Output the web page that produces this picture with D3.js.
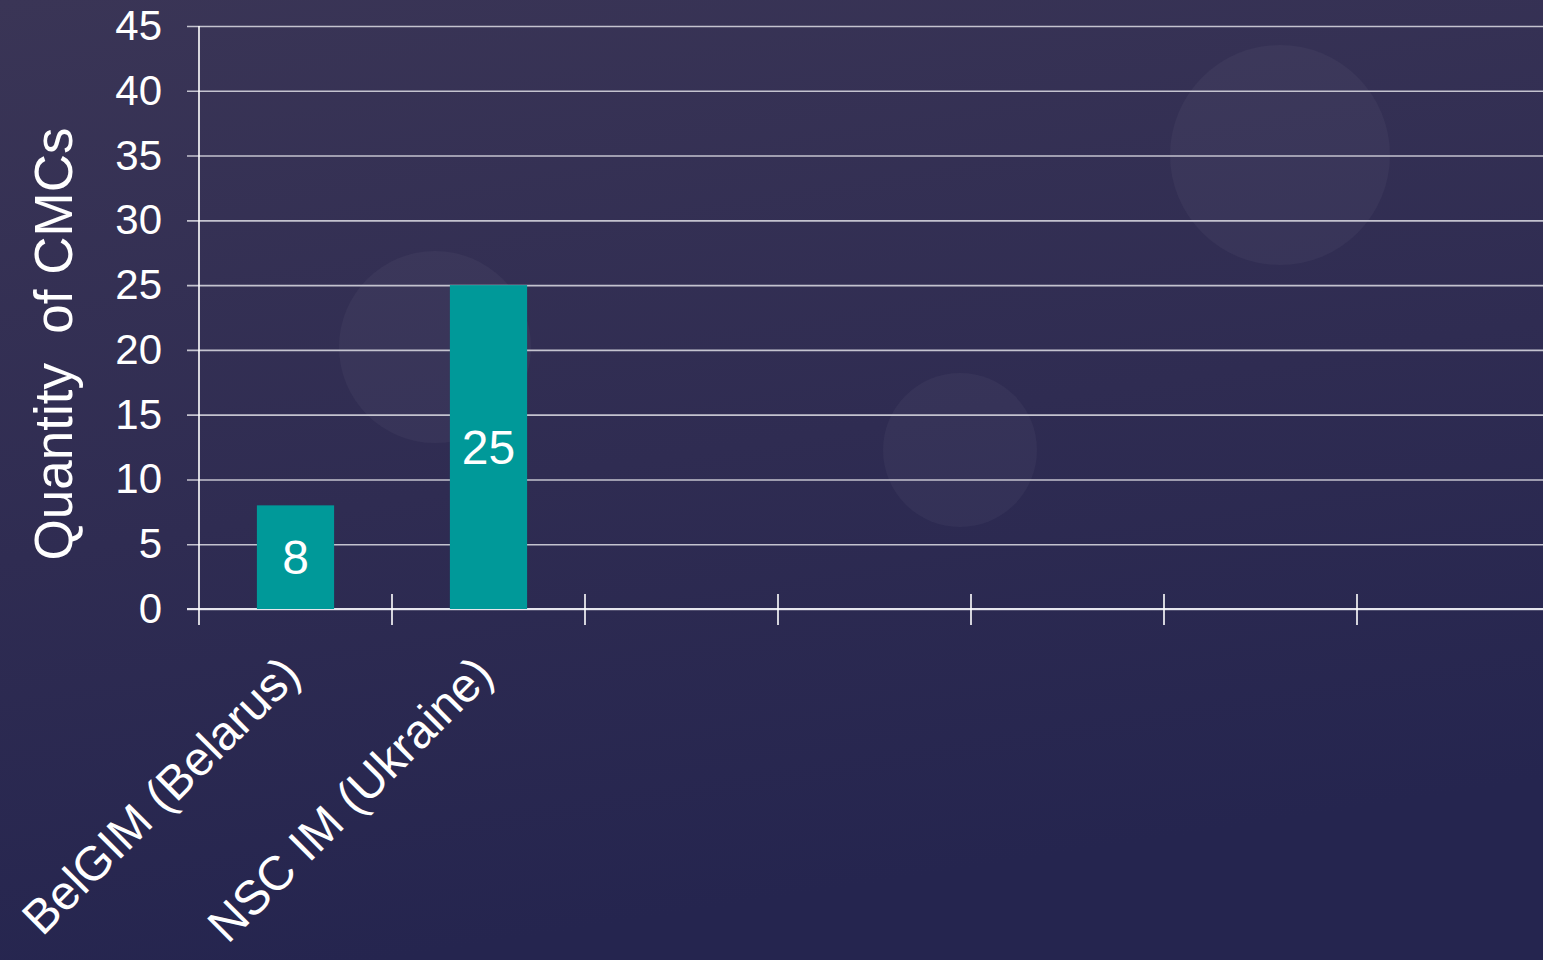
<!DOCTYPE html>
<html>
<head>
<meta charset="utf-8">
<script src="https://cdnjs.cloudflare.com/ajax/libs/d3/7.8.5/d3.min.js"></script>
<style>
  html, body { margin: 0; padding: 0; overflow: hidden; background: #2e2b4f; }
  text { font-family: 'Liberation Sans', Arial, sans-serif; fill: #ffffff; }
</style>
</head>
<body>
<div class="chart-container"></div>
<script>
// Data
const categories = ['BelGIM (Belarus)', 'NSC IM (Ukraine)', '', '', '', '', ''];
const values = [8, 25, null, null, null, null, null];
const yTicks = [0, 5, 10, 15, 20, 25, 30, 35, 40, 45];
const yTitle = 'Quantity\u00a0\u00a0of CMCs';

// Layout
const W = 1543, H = 960;
const margin = { top: 26, left: 199, bottom: 351 };
const plotBottom = H - margin.bottom; // 609
const step = 193;

const svg = d3.select('.chart-container')
    .append('svg')
    .attr('width', W)
    .attr('height', H);

// Background
const defs = svg.append('defs');
const grad = defs.append('linearGradient')
    .attr('id', 'bg')
    .attr('x1', '0').attr('y1', '0')
    .attr('x2', '0.25').attr('y2', '1');
grad.append('stop').attr('offset', '0%').attr('stop-color', '#3a3556');
grad.append('stop').attr('offset', '55%').attr('stop-color', '#2f2c52');
grad.append('stop').attr('offset', '100%').attr('stop-color', '#25254f');

svg.append('rect')
    .attr('width', W).attr('height', H)
    .attr('fill', 'url(#bg)');

// faint decorative circles
const bubbles = [[435, 347, 96], [960, 450, 77], [1280, 155, 110]];
svg.selectAll('.bubble')
    .data(bubbles)
    .enter()
    .append('circle')
    .attr('class', 'bubble')
    .attr('cx', d => d[0])
    .attr('cy', d => d[1])
    .attr('r', d => d[2])
    .attr('fill', '#ffffff')
    .attr('fill-opacity', 0.035);

// Scales
const xScale = d3.scaleBand()
    .domain(d3.range(categories.length))
    .range([margin.left, margin.left + step * categories.length])
    .padding(0);

const yScale = d3.scaleLinear()
    .domain([0, 45])
    .range([plotBottom, margin.top]);

// Gridlines + y labels
const yAxis = d3.axisLeft(yScale)
    .tickValues(yTicks)
    .tickSizeInner(-(W - 187))
    .tickSizeOuter(0)
    .tickPadding(25);

const yAxisDraw = svg.append('g')
    .attr('class', 'y axis')
    .attr('transform', 'translate(187,0)')
    .call(yAxis);

yAxisDraw.select('.domain').remove();
yAxisDraw.selectAll('.tick line')
    .attr('stroke', '#c4c3cf')
    .attr('stroke-width', 1.6);
yAxisDraw.selectAll('.tick text')
    .attr('font-size', 42)
    .attr('fill', '#ffffff')
    .attr('font-family', "'Liberation Sans', Arial, sans-serif");

// x axis line
svg.append('line')
    .attr('x1', 187).attr('x2', W)
    .attr('y1', yScale(0)).attr('y2', yScale(0))
    .attr('stroke', '#e6e6ee')
    .attr('stroke-width', 1.8);

// y axis line
svg.append('line')
    .attr('x1', margin.left).attr('x2', margin.left)
    .attr('y1', yScale(45)).attr('y2', yScale(0) + 16)
    .attr('stroke', '#ffffff')
    .attr('stroke-width', 1.6);

// x tick marks at category boundaries
svg.selectAll('.xtick')
    .data(d3.range(1, categories.length))
    .enter()
    .append('line')
    .attr('class', 'xtick')
    .attr('x1', d => xScale(d)).attr('x2', d => xScale(d))
    .attr('y1', yScale(0) - 15).attr('y2', yScale(0) + 16)
    .attr('stroke', '#ffffff')
    .attr('stroke-width', 1.6);

// Bars
const barW = xScale.bandwidth() * 0.4;
const barData = values.map((v, i) => ({ i, v })).filter(d => d.v != null);

svg.selectAll('.bar')
    .data(barData)
    .enter()
    .append('rect')
    .attr('class', 'bar')
    .attr('x', d => xScale(d.i) + (xScale.bandwidth() - barW) / 2)
    .attr('y', d => yScale(d.v))
    .attr('width', barW)
    .attr('height', d => yScale(0) - yScale(d.v))
    .attr('fill', '#009999');

svg.selectAll('.bar-label')
    .data(barData)
    .enter()
    .append('text')
    .attr('class', 'bar-label')
    .attr('x', d => xScale(d.i) + xScale.bandwidth() / 2)
    .attr('y', d => (yScale(d.v) + yScale(0)) / 2)
    .attr('dy', '0.36em')
    .attr('text-anchor', 'middle')
    .attr('font-size', 48)
    .text(d => d.v);

// Category labels, rotated
svg.selectAll('.cat-label')
    .data(categories.map((c, i) => ({ c, i })).filter(d => d.c))
    .enter()
    .append('text')
    .attr('class', 'cat-label')
    .attr('text-anchor', 'end')
    .attr('font-size', 48)
    .attr('transform', d => `translate(${xScale(d.i) + xScale.bandwidth() / 2 + 7},${yScale(0) + 68}) rotate(-45)`)
    .text(d => d.c);

// Y title
svg.append('text')
    .attr('class', 'y-title')
    .attr('text-anchor', 'middle')
    .attr('font-size', 53)
    .attr('transform', 'translate(72,344) rotate(-90)')
    .text(yTitle);
</script>
</body>
</html>
